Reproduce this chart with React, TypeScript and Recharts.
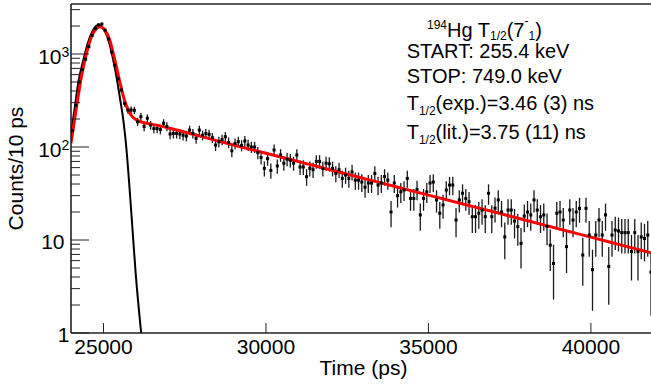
import React from 'react';
import { ComposedChart, Scatter, Line, XAxis, YAxis, ErrorBar, ReferenceLine } from 'recharts';

// histogram: 100 ps bins, first centre at 24050 ps
const BIN_START = 24050;
const BIN_WIDTH = 100;

const counts = [
  150, 280, 500, 680, 880, 1200, 1580, 1880, 2060, 2100,
  1800, 1450, 1050, 760, 540, 410, 295, 250, 250, 248,
  187, 212, 166, 204, 172, 158, 158, 154, 180, 166,
  138, 140, 140, 138, 134, 131, 152, 140, 124, 152,
  134, 140, 137, 126, 105, 114, 120, 129, 112, 91,
  109, 114, 104, 116, 105, 100, 100, 87, 77, 59,
  75, 56, 93, 62.5, 82, 67, 74, 72, 67, 82,
  61, 61, 48, 59, 57, 70, 70, 59, 67, 66,
  59, 52, 57, 46, 50, 46, 54, 44, 44, 42,
  37, 41, 41, 52, 39, 41, 48, 44, 20, 41,
  30, 33, 34.5, 46, 28, 28, 35, 18.6, 28, 33,
  41, 42, 27, 19.4, 23.8, 34.5, 39, 39, 16.4, 27,
  31.8, 28, 25.8, 17.8, 17.8, 19.4, 21, 17.8, 31.8, 17.8,
  22, 27, 20, 10.8, 21, 21, 16, 13.9, 9.2, 18.1,
  20, 18.6, 27, 21, 17.8, 18.6, 14, 8.8, 5.6, 19.4,
  20, 16.4, 8.5, 21, 16.4, 20, 21.9, 6.9, 21.9, 11.3,
  4.8, 11.3, 16.4, 11.3, 18.6, 5.2, 11.3, 12.8, 12.5, 12,
  12, 12, 7.5, 12, 7.5, 10.8, 10.4, 11.3, 4.5,
];

// red fit curve
const fitTimes = [
  24000, 24170, 24320, 24480, 24630, 24790, 24890, 25040, 25190, 25350,
  25500, 25660, 25810, 26020, 26320, 26630, 27000, 28000, 29000, 30000,
  31000, 32000, 33000, 34000, 35000, 36000, 37000, 38000, 39000, 40000,
  41000, 41850,
];
const fitValues = [
  110, 271, 570, 1025, 1535, 1890, 1967, 1812, 1415, 862,
  504, 307, 230, 195, 180, 172, 160, 130, 105, 85.7,
  69.7, 56.6, 46, 37.4, 30.4, 24.7, 20.1, 16.3, 13.2, 10.75,
  8.7, 7.3,
];

// black prompt response curve
const promptTimes = [
  24000, 24120, 24220, 24380, 24530, 24680, 24840, 24990, 25150, 25300,
  25400, 25500, 25610, 25690, 25790, 25880, 25990, 26160,
];
const promptValues = [
  140, 271, 484, 862, 1355, 1812, 2050, 1890, 1415, 862,
  570, 347, 195, 110, 41, 15.1, 4.4, 1,
];

const xTicks = [25000, 30000, 35000, 40000];
const yMajor = [1, 10, 100, 1000];
const yMinor = [2, 3, 4, 5, 6, 7, 8, 9, 20, 30, 40, 50, 60, 70, 80, 90, 200, 300, 400, 500, 600, 700, 800, 900, 2000, 3000];
const Y_MAX = 3450;

const FONT = '"Liberation Sans", Arial, Helvetica, sans-serif';
const AXIS = '#222';

// error bars: statistical, ~sqrt(N)
const points = counts.map((c, i) => ({ t: BIN_START + i * BIN_WIDTH, c, e: 1.4 * Math.sqrt(c) }));
const fit = fitTimes.map((t, i) => ({ t, fit: fitValues[i] }));
const prompt = promptTimes.map((t, i) => ({ t, prompt: promptValues[i] }));

const XTick = (props: any) => {
  const { x, y, payload } = props;
  return (
    <g>
      <line x1={x} x2={x} y1={y} y2={y - 10} stroke={AXIS} strokeWidth={1} />
      <text x={x} y={y + 21} textAnchor="middle" fontSize={21} fontFamily={FONT} fill="#000">
        {payload.value}
      </text>
    </g>
  );
};

const YTick = (props: any) => {
  const { x, y, payload } = props;
  const v = payload.value;
  const major = yMajor.includes(v);
  let label: React.ReactNode = null;
  if (v === 1) {
    label = (
      <text x={x - 1.5} y={y + 9} textAnchor="end" fontSize={21} fontFamily={FONT} fill="#000">1</text>
    );
  } else if (v === 10) {
    label = (
      <text x={x - 6.5} y={y + 9} textAnchor="end" fontSize={21} fontFamily={FONT} fill="#000">10</text>
    );
  } else if (major) {
    const exp = Math.round(Math.log10(v));
    label = (
      <g>
        <text x={x - 9.5} y={y + 10} textAnchor="end" fontSize={21} fontFamily={FONT} fill="#000">10</text>
        <text x={x - 9.5} y={y + 3} textAnchor="start" fontSize={14} fontFamily={FONT} fill="#000">{exp}</text>
      </g>
    );
  }
  return (
    <g>
      <line x1={x} x2={x + (major ? 18 : 9)} y1={y} y2={y} stroke={AXIS} strokeWidth={1} />
      {label}
    </g>
  );
};

const Marker = (props: any) => {
  const { cx, cy } = props;
  return <rect x={cx - 1.5} y={cy - 1.5} width={3} height={3} fill="#000" />;
};

const Overlay = () => (
  <svg width={651} height={387} style={{ position: 'absolute', left: 0, top: 0, pointerEvents: 'none' }}>
    <g fontFamily={FONT} fill="#000">
      <text transform="translate(23,168.5) rotate(-90)" textAnchor="middle" fontSize={21}>Counts/10 ps</text>
      <text x={363.5} y={375} textAnchor="middle" fontSize={21}>Time (ps)</text>

      <text x={427} y={29} fontSize={12}>
        194
        <tspan fontSize={20} dy={8}>Hg T</tspan>
        <tspan fontSize={12} dy={3}>1/2</tspan>
        <tspan fontSize={20} dy={-3}>(7</tspan>
        <tspan fontSize={12} dy={-12}>-</tspan>
        <tspan fontSize={12} dy={15}>1</tspan>
        <tspan fontSize={20} dy={-3}>)</tspan>
      </text>
      <text x={406.7} y={58.3} fontSize={20}>START: 255.4 keV</text>
      <text x={406.7} y={83.3} fontSize={20}>STOP: 749.0 keV</text>
      <text x={406.7} y={110} fontSize={20}>
        T<tspan fontSize={12} dy={5}>1/2</tspan>
        <tspan dy={-5}>(exp.)=3.46 (3) ns</tspan>
      </text>
      <text x={406.7} y={139.3} fontSize={20}>
        T<tspan fontSize={12} dy={5}>1/2</tspan>
        <tspan dy={-5}>(lit.)=3.75 (11) ns</tspan>
      </text>
    </g>
  </svg>
);

export default function App() {
  return (
    <div style={{ position: 'absolute', left: 0, top: 0, width: 651, height: 387, background: '#fff' }}>
      <ComposedChart width={651} height={387} margin={{ top: 4, right: 0, bottom: 0, left: 0 }}>
        <XAxis
          dataKey="t"
          type="number"
          domain={[24000, 41850]}
          ticks={xTicks}
          allowDataOverflow
          height={54}
          tickSize={0}
          tickMargin={0}
          interval={0}
          tick={<XTick />}
          axisLine={{ stroke: AXIS, strokeWidth: 1.6 }}
        />
        <YAxis
          type="number"
          scale="log"
          domain={[1, Y_MAX]}
          ticks={[...yMajor, ...yMinor]}
          allowDataOverflow
          width={71}
          tickSize={0}
          tickMargin={0}
          interval={0}
          tick={<YTick />}
          axisLine={{ stroke: AXIS, strokeWidth: 1.6 }}
        />
        <ReferenceLine y={Y_MAX} stroke={AXIS} strokeWidth={1.4} />
        <Scatter data={points} dataKey="c" shape={<Marker />} isAnimationActive={false}>
          <ErrorBar dataKey="e" direction="y" width={0} stroke="#1a1a1a" strokeWidth={1.3} />
        </Scatter>
        <Line
          data={prompt}
          dataKey="prompt"
          type="monotone"
          stroke="#000"
          strokeWidth={2}
          dot={false}
          activeDot={false}
          isAnimationActive={false}
        />
        <Line
          data={fit}
          dataKey="fit"
          type="monotone"
          stroke="#ff0000"
          strokeWidth={3}
          dot={false}
          activeDot={false}
          isAnimationActive={false}
        />
      </ComposedChart>
      <Overlay />
    </div>
  );
}
